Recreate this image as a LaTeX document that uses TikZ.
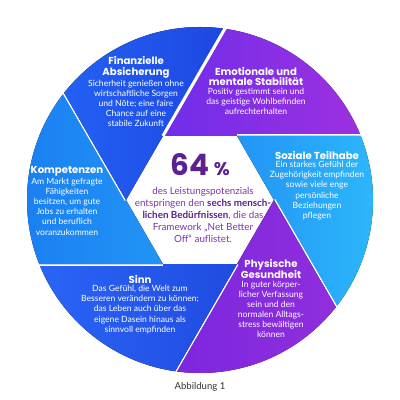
\documentclass[tikz,border=0pt]{standalone}
\usepackage{fontspec}
\setmainfont{Lato}
\newfontfamily\headfont{Poppins}
\usepackage{xcolor}
\usetikzlibrary{positioning,calc}

\definecolor{emoL}{HTML}{4F2CF0}
\definecolor{emoR}{HTML}{A030DF}
\definecolor{sozL}{HTML}{1560EE}
\definecolor{sozR}{HTML}{2CB6FA}
\definecolor{phyL}{HTML}{6A20E0}
\definecolor{phyR}{HTML}{9430DC}
\definecolor{sinL}{HTML}{2A66F8}
\definecolor{sinR}{HTML}{1A3AD0}
\definecolor{komL}{HTML}{1A80F2}
\definecolor{komR}{HTML}{2EB4FA}
\definecolor{finL}{HTML}{2466F8}
\definecolor{finR}{HTML}{1830D0}
\definecolor{lila}{HTML}{7A35B0}
\definecolor{lilaDark}{HTML}{5C2090}

\begin{document}
\begin{tikzpicture}[
  x=0.025cm, y=0.025cm,
  head/.style={font=\headfont\bfseries\fontsize{7.2}{7.7}\selectfont, text=white, align=center, inner sep=0pt},
  body/.style={font=\fontsize{6.1}{7.2}\selectfont, text=white, align=center, inner sep=0pt},
  gap/.style={white, line width=2.2pt},
]
\fill[white] (0,0) rectangle (400,400);
\useasboundingbox (0,0) rectangle (400,400);
\coordinate (C) at (200,200);

% six blades round the white hexagon
\foreach \k/\lc/\rc in {0/emoL/emoR, 1/sozL/sozR, 2/phyL/phyR, 3/sinL/sinR, 4/komL/komR, 5/finL/finR}{
  \pgfmathsetmacro\rot{-60*\k}
  \begin{scope}
    \clip ($(C)+(120+\rot:74)$) -- ($(C)+(60+\rot:74)$) -- ++(\rot:400)
      -- ($(C)+(50+\rot:800)$) -- ($(C)+(120+\rot:74)+(60+\rot:400)$) -- cycle;
    \fill[left color=\lc, right color=\rc] (C) circle (173);
  \end{scope}
  \begin{scope}
    \clip (C) circle (174);
    \draw[gap] ($(C)+(60+\rot:74)$) -- ++(\rot:400);
  \end{scope}
}

\node[head] (finT) at (136,333) {Finanzielle\\Absicherung};
\node[body, below=1.2pt of finT] (finB) {Sicherheit genießen ohne\\wirtschaftliche Sorgen\\und Nöte; eine faire\\Chance auf eine\\stabile Zukunft};

\node[head] (emoT) at (256,323.5) {Emotionale und\\mentale Stabilität};
\node[body, below=1.2pt of emoT] (emoB) {Positiv gestimmt sein und\\das geistige Wohlbefinden\\aufrechterhalten};

\node[head] (sozT) at (317,245) {Soziale Teilhabe};
\node[body, below=1.2pt of sozT] (sozB) {Ein starkes Gefühl der\\Zugehörigkeit empfinden\\sowie viele enge\\persönliche\\Beziehungen\\pflegen};

\node[head] (komT) at (67,229) {Kompetenzen};
\node[body, below=1.2pt of komT] (komB) {Am Markt gefragte\\Fähigkeiten\\besitzen, um gute\\Jobs zu erhalten\\und beruflich\\voranzukommen};

\node[head] (sinT) at (140,121) {Sinn};
\node[body, below=1.2pt of sinT] (sinB) {Das Gefühl, die Welt zum\\Besseren verändern zu können;\\das Leben auch über das\\eigene Dasein hinaus als\\sinnvoll empfinden};

\node[head] (phyT) at (271,131) {Physische\\Gesundheit};
\node[body, below=1.2pt of phyT] (phyB) {In guter körper-\\licher Verfassung\\sein und den\\normalen Alltags-\\stress bewältigen\\können};

\node[font=\headfont\bfseries\fontsize{21}{21}\selectfont, text=lilaDark, inner sep=0pt] (pct) at (200,235) {64\,{\fontsize{13}{13}\selectfont\%}};
\node[font=\fontsize{7}{8.5}\selectfont, text=lila, align=center, inner sep=0pt] (lead) at (203,185)
  {des Leistungspotenzials\\entspringen den \textcolor{lilaDark}{\textbf{sechs mensch-}}\\\textcolor{lilaDark}{\textbf{lichen Bedürfnissen}}, die das\\Framework „Net Better\\Off“ auflistet.};

\node[font=\fontsize{6.8}{7}\selectfont, text=black!80, inner sep=0pt] (cap) at (200,13) {Abbildung 1};
\end{tikzpicture}
\end{document}
